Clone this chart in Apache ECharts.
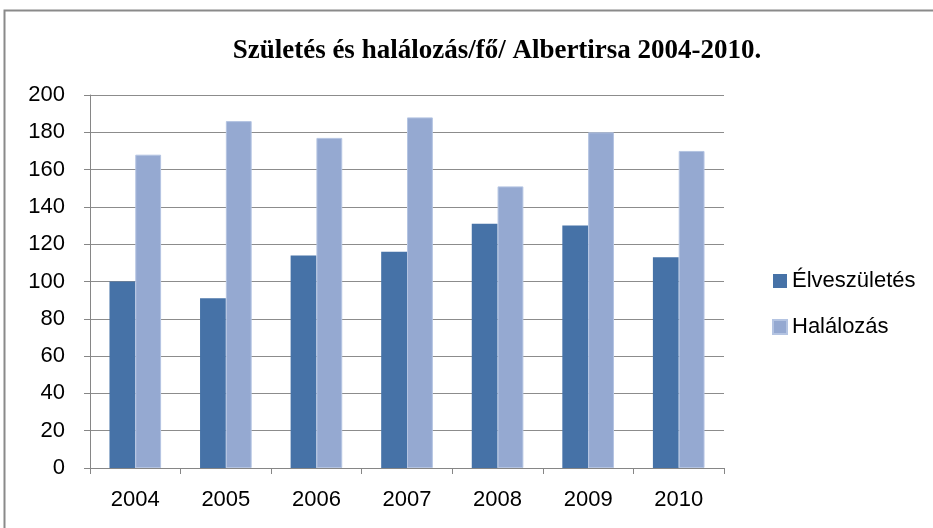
<!DOCTYPE html>
<html>
<head>
<meta charset="utf-8">
<script src="https://cdn.jsdelivr.net/npm/echarts@6/dist/echarts.min.js"></script>
<style>
  html, body { margin: 0; padding: 0; background: #fff; }
  #chart { width: 933px; height: 528px; }
</style>
</head>
<body>
<div id="chart"></div>
<script>
const years = ['2004', '2005', '2006', '2007', '2008', '2009', '2010'];
const births = [100, 91, 114, 116, 131, 130, 113];
const deaths = [168, 186, 177, 188, 151, 180, 170];

const labelFont = '"Liberation Sans", sans-serif';

document.addEventListener("DOMContentLoaded", () => {
  echarts.init(document.querySelector("#chart")).setOption({
    animation: false,
    title: {
      text: 'Születés és halálozás/fő/ Albertirsa 2004-2010.',
      left: 492,
      textAlign: 'center',
      top: 33,
      textStyle: {
        fontFamily: '"Liberation Serif", "DejaVu Serif", serif',
        fontWeight: 'bold',
        fontSize: 27,
        color: '#000'
      }
    },
    graphic: [{
      type: 'rect',
      shape: { x: 4.5, y: 10.5, width: 940, height: 530 },
      style: { fill: 'none', stroke: '#8a8a8a', lineWidth: 2 },
      silent: true
    }],
    legend: {
      orient: 'vertical',
      left: 767,
      top: 265,
      itemWidth: 14,
      itemHeight: 14,
      itemGap: 24,
      icon: 'rect',
      textStyle: { fontFamily: labelFont, fontSize: 22, color: '#000' },
      data: ['Élveszületés', 'Halálozás']
    },
    grid: {
      left: 90,
      right: 209,
      top: 95,
      bottom: 60
    },
    xAxis: {
      type: 'category',
      data: years,
      axisLine: { lineStyle: { color: '#868686', width: 1 } },
      axisTick: { show: true, length: 6, lineStyle: { color: '#868686' } },
      axisLabel: { fontFamily: labelFont, fontSize: 22, color: '#000', margin: 21 }
    },
    yAxis: {
      type: 'value',
      min: 0,
      max: 200,
      interval: 20,
      axisLine: { show: true, lineStyle: { color: '#868686', width: 1 } },
      axisTick: { show: true, length: 6, lineStyle: { color: '#868686' } },
      axisLabel: { fontFamily: labelFont, fontSize: 22, color: '#000', margin: 25 },
      splitLine: { lineStyle: { color: '#8c8c8c', width: 1 } }
    },
    series: [{
      name: 'Élveszületés',
      type: 'bar',
      data: births,
      color: '#4672a7',
      barGap: '0%',
      barCategoryGap: '43%'
    }, {
      name: 'Halálozás',
      type: 'bar',
      data: deaths,
      color: '#95a9d1',
      itemStyle: { borderColor: '#b4c4e2', borderWidth: 1 }
    }]
  });
});
</script>
</body>
</html>
